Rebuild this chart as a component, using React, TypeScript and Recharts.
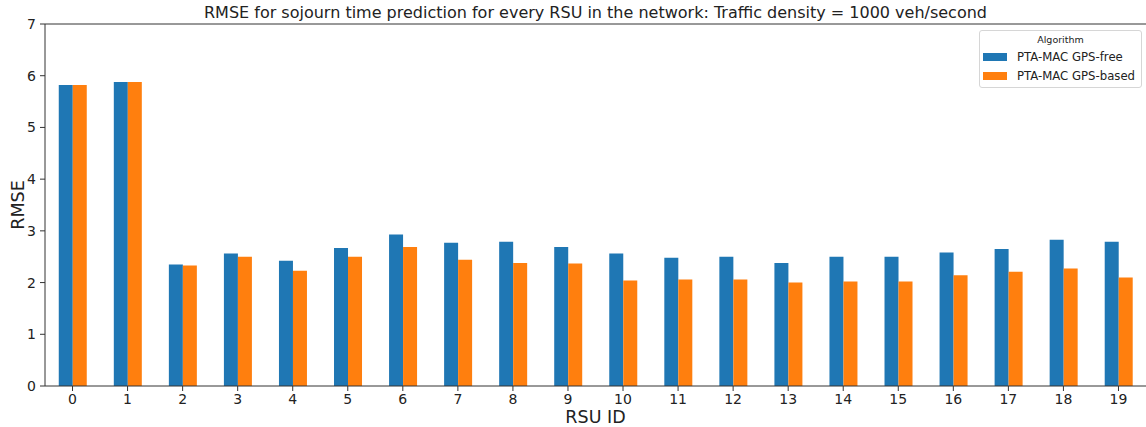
import { BarChart, Bar, XAxis, YAxis, ReferenceLine, Label } from "recharts";

const rsuIds = ["0", "1", "2", "3", "4", "5", "6", "7", "8", "9", "10", "11", "12", "13", "14", "15", "16", "17", "18", "19"];
const gpsFree = [5.82, 5.88, 2.35, 2.56, 2.42, 2.67, 2.93, 2.77, 2.79, 2.69, 2.56, 2.48, 2.5, 2.38, 2.5, 2.5, 2.58, 2.65, 2.83, 2.79];
const gpsBased = [5.82, 5.88, 2.33, 2.5, 2.23, 2.5, 2.69, 2.44, 2.38, 2.37, 2.04, 2.06, 2.06, 2.0, 2.02, 2.02, 2.14, 2.21, 2.27, 2.1];
const yTicks = [0, 1, 2, 3, 4, 5, 6, 7];
const seriesNames = ["PTA-MAC GPS-free", "PTA-MAC GPS-based"];
const seriesColors = ["#1f77b4", "#ff7f0e"];

const data = rsuIds.map((id, i) => ({
  id,
  free: gpsFree[i],
  based: gpsBased[i],
}));

const font = "'DejaVu Sans', sans-serif";
const axisColor = "#333";
const textColor = "#222";

const LegendBox = () => (
  <div
    style={{
      position: "absolute",
      left: 979,
      top: 30,
      border: "1px solid #d6d6d6",
      borderRadius: 3,
      background: "#fff",
      width: 163,
      height: 58,
      boxSizing: "border-box",
      fontFamily: font,
      color: textColor,
    }}
  >
    <div style={{ fontSize: 9.5, textAlign: "center", marginTop: 3, height: 13 }}>Algorithm</div>
    {seriesNames.map((name, i) => (
      <div key={name} style={{ display: "flex", alignItems: "center", height: 19.5, fontSize: 11.7 }}>
        <span
          style={{
            display: "inline-block",
            width: 24,
            height: 8,
            background: seriesColors[i],
            marginLeft: 3,
            marginRight: 10,
          }}
        />
        {name}
      </div>
    ))}
  </div>
);

const App = () => {
  return (
    <div style={{ position: "absolute", left: 0, top: 0, width: 1146, height: 427, background: "#fff" }}>
      <BarChart
        width={1146}
        height={427}
        data={data}
        margin={{ top: 24, right: 0, bottom: 11, left: 5 }}
        barCategoryGap="25%"
        barGap={0}
      >
        <XAxis
          dataKey="id"
          height={30}
          stroke={axisColor}
          tickSize={5}
          tickMargin={3}
          tick={{ fill: textColor, fontSize: 14, fontFamily: font }}
        >
          <Label value="RSU ID" position="insideBottom" offset={-7} fill={textColor} fontSize={17.5} fontFamily={font} />
        </XAxis>
        <YAxis
          width={40}
          domain={[0, 7]}
          ticks={yTicks}
          allowDataOverflow
          stroke={axisColor}
          tickSize={5}
          tickMargin={4}
          tick={{ fill: textColor, fontSize: 14, fontFamily: font }}
        >
          <Label
            content={() => (
              <text
                x={18}
                y={205}
                transform="rotate(-90 18 205)"
                textAnchor="middle"
                dominantBaseline="central"
                fill={textColor}
                fontSize={17.5}
                fontFamily={font}
              >
                RMSE
              </text>
            )}
          />
        </YAxis>
        <ReferenceLine y={7} stroke={axisColor} />
        <Bar dataKey="free" name={seriesNames[0]} fill={seriesColors[0]} isAnimationActive={false} />
        <Bar dataKey="based" name={seriesNames[1]} fill={seriesColors[1]} isAnimationActive={false} />
      </BarChart>
      <div
        style={{
          position: "absolute",
          top: 3,
          left: 45,
          width: 1101,
          textAlign: "center",
          fontFamily: font,
          fontSize: 16,
          color: textColor,
        }}
      >
        RMSE for sojourn time prediction for every RSU in the network: Traffic density = 1000 veh/second
      </div>
      <LegendBox />
    </div>
  );
};

export default App;
